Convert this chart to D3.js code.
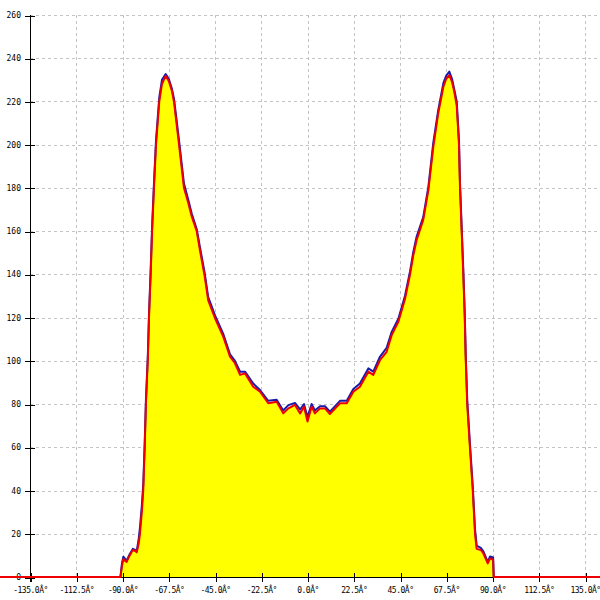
<!DOCTYPE html>
<html>
<head>
<meta charset="utf-8">
<script src="https://cdn.jsdelivr.net/npm/d3@7/dist/d3.min.js"></script>
<style>
  html, body { margin: 0; padding: 0; background: #fff; }
  svg { display: block; }
</style>
</head>
<body>
<svg id="chart" width="600" height="600"></svg>
<script>
// ---- data ----
const angles = [-150, -91.0, -90.3, -89.6, -88.8, -88.0, -86.5, -85.0, -83.8, -83.1, -82.2, -81.5, -80.6, -79.9, -79.2, -78.6, -77.7, -77.1, -76.3, -75.6, -74.7, -73.7, -72.1, -70.8, -69.0, -67.5, -66.0, -64.9, -62.5, -60.1, -58.0, -56.3, -53.9, -52.3, -50.0, -48.3, -45.0, -41.0, -37.7, -35.3, -32.8, -30.4, -26.4, -23.1, -19.1, -15.0, -11.8, -9.3, -6.1, -3.6, -1.7, 0, 2.0, 3.6, 6.1, 8.5, 10.9, 15.8, 19.1, 22.3, 25.5, 29.6, 32.0, 35.3, 38.5, 41.0, 44.2, 47.4, 49.9, 51.5, 53.1, 56.3, 58.8, 61.2, 63.6, 66.1, 67.5, 69.0, 70.3, 71.3, 72.6, 73.7, 74.2, 75.0, 75.8, 76.5, 77.0, 77.7, 79.0, 80.4, 81.5, 82.3, 84.3, 85.5, 87.7, 88.8, 90.3, 90.6, 150];

const redValues = [0, 0, 5, 8.3, 7.5, 7, 10, 12.5, 12, 11.4, 15, 20, 30, 40, 60, 80, 100, 120, 140, 160, 180, 200, 220, 228, 231.8, 229.5, 225, 219.5, 200, 180, 173, 166.7, 160, 151, 139, 128, 119.7, 111.2, 101.9, 98.9, 93.5, 94.2, 88, 85.7, 80.4, 81.1, 75.7, 78, 79.6, 75.7, 78.8, 71.9, 78.8, 75.7, 78, 78, 75.4, 80.4, 80.4, 85.7, 88, 95, 93.5, 100.4, 104.2, 112, 118.1, 128.5, 140, 149, 155.9, 165.2, 179, 199, 214.5, 226.8, 230.5, 232.2, 229, 225, 218, 200, 180, 160, 140, 120, 100, 80, 60, 40, 20, 13, 12.5, 11, 6.3, 8.6, 8, 0, 0];

const blueValues = [0, 0, 6, 9.4, 8.5, 7.5, 10.5, 13, 12.5, 12, 17, 23, 33, 43, 62, 82, 102, 122, 142, 162, 182, 202, 222, 230, 232.7, 230.5, 226, 221, 202, 182, 174.5, 168, 161, 152.5, 140.5, 129.5, 121, 112.5, 103, 100, 95, 95, 89.5, 86.5, 81.5, 82, 77, 79.5, 80.5, 77.5, 80, 74, 80, 77, 79, 79, 76.5, 81.5, 81.5, 87, 89.5, 96.5, 95, 102, 106, 113.5, 119.5, 130, 141.5, 150.5, 157.5, 166.5, 180.5, 201, 216, 228.5, 232, 233.8, 230.5, 226, 220, 202, 182, 162, 142, 122, 102, 82, 62, 42, 22, 14.5, 13.5, 12, 7, 9.5, 9, 0, 0];

const xTickValues = [-135, -112.5, -90, -67.5, -45, -22.5, 0, 22.5, 45, 67.5, 90, 112.5, 135];
const xTickLabels = ["-135.0Â°", "-112.5Â°", "-90.0Â°", "-67.5Â°", "-45.0Â°", "-22.5Â°", "0.0Â°", "22.5Â°", "45.0Â°", "67.5Â°", "90.0Â°", "112.5Â°", "135.0Â°"];
const yTickValues = [0, 20, 40, 60, 80, 100, 120, 140, 160, 180, 200, 220, 240, 260];
const yTickLabels = ["0", "20", "40", "60", "80", "100", "120", "140", "160", "180", "200", "220", "240", "260"];

// ---- layout ----
const svg = d3.select("#chart");
const W = 600, H = 600;
const mLeft = 30, mRight = 585, mTop = 15, mBottom = 577;

const x = d3.scaleLinear().domain([-135, 135]).range([mLeft, mRight]);
const y = d3.scaleLinear().domain([0, 260]).range([mBottom, mTop]);

// gridlines
const grid = svg.append("g").attr("stroke", "#c4c4c4").attr("stroke-width", 1)
  .attr("stroke-dasharray", "3,3").attr("shape-rendering", "crispEdges");
grid.selectAll("line.h").data(yTickValues.slice(1)).enter().append("line")
  .attr("x1", mLeft).attr("x2", W)
  .attr("y1", d => Math.round(y(d)) + 0.5).attr("y2", d => Math.round(y(d)) + 0.5);
grid.selectAll("line.v").data(xTickValues.slice(1)).enter().append("line")
  .attr("y1", mTop).attr("y2", mBottom)
  .attr("x1", d => Math.round(x(d)) + 0.5).attr("x2", d => Math.round(x(d)) + 0.5);

// clip region for data
svg.append("defs").append("clipPath").attr("id", "clip")
  .append("rect").attr("x", 0).attr("y", mTop).attr("width", W).attr("height", mBottom - mTop + 3);

const pts = angles.map((a, i) => ({a, r: redValues[i], b: blueValues[i]}));

const area = d3.area().x(d => x(d.a)).y0(y(0)).y1(d => y(d.r)).curve(d3.curveLinear);
const lineRed = d3.line().x(d => x(d.a)).y(d => y(d.r)).curve(d3.curveLinear);
const lineBlue = d3.line().x(d => x(d.a)).y(d => y(d.b)).curve(d3.curveLinear);

const plot = svg.append("g").attr("clip-path", "url(#clip)");
plot.append("path").datum(pts).attr("d", area).attr("fill", "#ffff00");

// axes
const xAxis = d3.axisBottom(x).tickValues(xTickValues).tickSize(0).tickFormat((d, i) => xTickLabels[i]);
const yAxis = d3.axisLeft(y).tickValues(yTickValues).tickSize(0).tickFormat((d, i) => yTickLabels[i]);

const gx = svg.append("g").attr("transform", `translate(0,${mBottom})`).call(xAxis);
gx.select(".domain").attr("stroke", "#000").attr("d", `M0,0.5H${W}`);
gx.selectAll(".tick line").remove();
gx.selectAll(".tick").append("line").attr("y1", -4).attr("y2", 5).attr("stroke", "#000").attr("x1", 0.5).attr("x2", 0.5);
gx.selectAll(".tick text").attr("dy", 0).attr("y", 16)
  .attr("font-family", "DejaVu Sans Mono, monospace").attr("font-size", 8).attr("letter-spacing", "-0.5px").attr("fill", "#000");

const gy = svg.append("g").attr("transform", `translate(${mLeft},0)`).call(yAxis);
gy.select(".domain").attr("stroke", "#000").attr("d", `M0.5,${mTop}V${mBottom + 5}`);
gy.selectAll(".tick line").remove();
gy.selectAll(".tick").append("line").attr("x1", -5).attr("x2", 5).attr("stroke", "#000").attr("y1", 0.5).attr("y2", 0.5);
gy.selectAll(".tick text").attr("x", -9).attr("dy", "0.32em")
  .attr("font-family", "DejaVu Sans Mono, monospace").attr("font-size", 8).attr("fill", "#000");
svg.selectAll(".domain").attr("shape-rendering", "crispEdges");
svg.selectAll(".tick line").attr("shape-rendering", "crispEdges");

const lines = svg.append("g").attr("clip-path", "url(#clip)");
lines.append("path").datum(pts.slice(1, -1)).attr("d", lineBlue)
  .attr("fill", "none").attr("stroke", "#1a1aa8").attr("stroke-width", 2).attr("stroke-linejoin", "round");
lines.append("path").datum(pts).attr("d", lineRed)
  .attr("fill", "none").attr("stroke", "#ee0000").attr("stroke-width", 2).attr("stroke-linejoin", "round");
</script>
</body>
</html>
